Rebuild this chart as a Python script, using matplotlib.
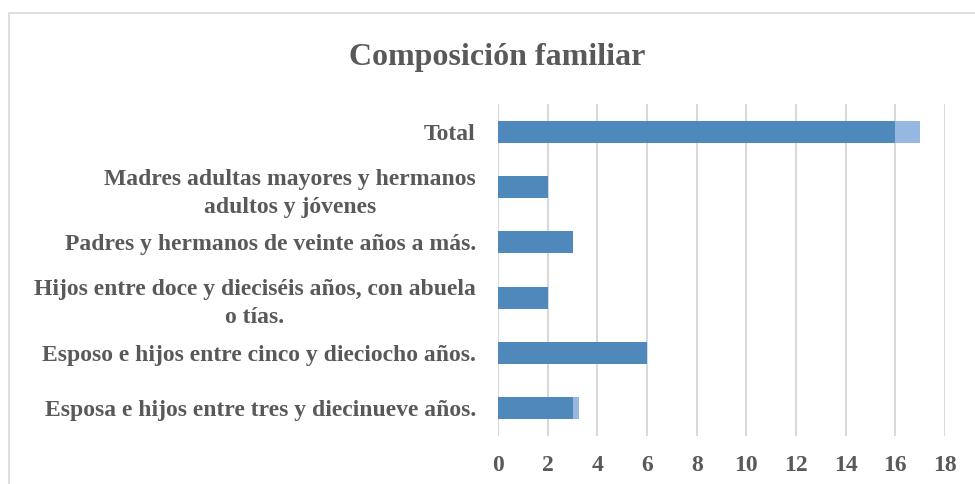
import matplotlib.pyplot as plt
from matplotlib.patches import Rectangle

# Datos (de arriba hacia abajo)
categorias = [
    "Total",
    "Madres adultas mayores y hermanos\nadultos y jóvenes",
    "Padres y hermanos de veinte años a más.",
    "Hijos entre doce y dieciséis años, con abuela\no tías.",
    "Esposo e hijos entre cinco y dieciocho años.",
    "Esposa e hijos entre tres y diecinueve años.",
]
serie_1 = [16, 2, 3, 2, 6, 3]
serie_2 = [1, 0, 0, 0, 0, 0.25]
ticks_x = [0, 2, 4, 6, 8, 10, 12, 14, 16, 18]

GRIS = "#595959"
plt.rcParams['font.family'] = ['Liberation Serif', 'DejaVu Serif']
plt.rcParams['font.weight'] = 'bold'

fig = plt.figure(figsize=(9.75, 4.84), dpi=100)
ax = fig.add_axes([498 / 975, 1 - 436 / 484, 447 / 975, 332 / 484])

# Marco del gráfico
fig.patches.append(Rectangle((9 / 975, -0.1), 1.2, 1 - 13 / 484 + 0.1,
                             transform=fig.transFigure, fill=False,
                             edgecolor="#D9D9D9", linewidth=1.2))

y = list(range(len(categorias)))
ax.barh(y, serie_1, height=0.4, color="#4F88BB", zorder=3)
ax.barh(y, serie_2, left=serie_1, height=0.4, color="#96B7DF", zorder=3)

ax.set_xlim(0, 18)
ax.set_ylim(len(categorias) - 0.5, -0.5)
ax.set_xticks(ticks_x)
ax.set_yticks(y)
ax.set_yticklabels(categorias, multialignment='center', linespacing=1.45)
ax.tick_params(axis='both', length=0, colors=GRIS, labelsize=17)
ax.tick_params(axis='x', pad=14)
ax.tick_params(axis='y', pad=16)
for lbl in ax.get_xticklabels() + ax.get_yticklabels():
    lbl.set_fontweight('bold')

ax.grid(axis='x', color="#D9D9D9", linewidth=1.5, zorder=0)
for s in ax.spines.values():
    s.set_visible(False)

fig.text(497 / 975, 1 - 57 / 484, "Composición familiar", ha='center', va='center',
         fontsize=23, fontweight='bold', color=GRIS)

fig.savefig("out.png", dpi=100)
